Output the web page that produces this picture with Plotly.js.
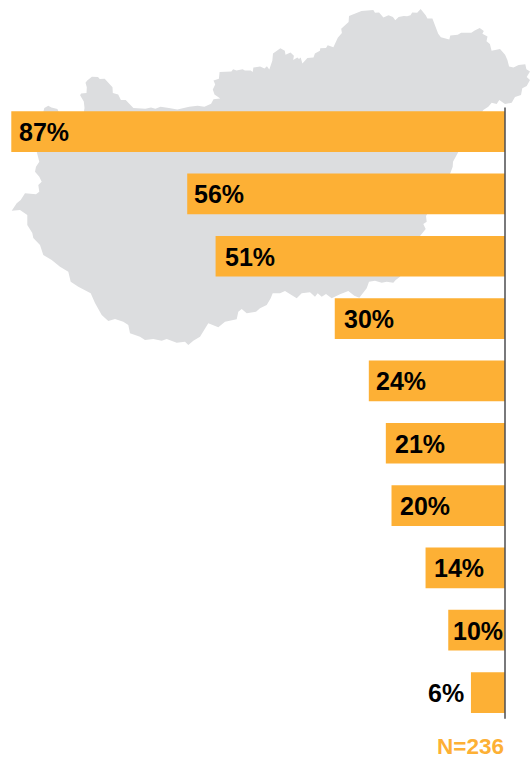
<!DOCTYPE html>
<html>
<head>
<meta charset="utf-8">
<script src="https://cdn.plot.ly/plotly-3.0.1.min.js"></script>
<style>html,body{margin:0;padding:0;background:#fff}#chart{width:530px;height:758px}</style>
</head>
<body>
<div id="chart"></div>
<script>
// Row names are not shown in the picture; only the values are.
const categories = ['Row 1','Row 2','Row 3','Row 4','Row 5','Row 6','Row 7','Row 8','Row 9','Row 10'];
const shares = [87,56,51,30,24,21,20,14,10,6];
const sampleNote = 'N=236';

// Outline of the backdrop map of Hungary.
const mapX = [43.2,44.3,48.3,51.4,57.4,58.8,67.6,83.8,84.5,83.8,80.1,81.1,86.5,86.8,85.5,87.2,91.9,98,99.7,104.7,112.5,112.8,118.2,120.9,125.7,133.4,145.3,151,155.4,160.5,168.9,177.4,189.2,197.6,204.4,211.1,213.5,220.3,214.5,212.8,215.2,213.5,218.9,219.6,231.4,233.1,236.5,242.6,244.9,250.7,252.7,253.4,260.1,264.5,266.9,269.3,272.3,273,280.4,284.8,285.5,290.5,293.9,293.2,297.3,299,300.7,302.4,307.4,313.5,314.9,319.9,320.3,326,327.7,333.4,337.8,341.9,341.2,348.6,349,351.4,354.1,361.5,373.3,375,379.1,383.4,388.5,392.9,395.3,398.6,403.7,407.1,410.5,412.2,417.2,420.6,425.7,427.4,432.4,434.8,438.2,440.9,449.3,450.3,457.8,461.1,464.5,471.3,474.7,479.7,483.8,482.4,487.5,486.5,489.9,491.6,500,505.1,507.4,509.1,513.5,518.6,525.3,526.4,530,526.7,530,526.7,522.3,521,515,511.7,505,499.3,496.7,491.7,488.3,483.3,458.3,453,452.7,450,426,426.7,423.3,425.7,420,400,395.7,393.3,386.7,381.7,375,369,366.7,363.3,359.3,354.3,348.3,340,331.7,326,321.7,317.7,315,310,301.7,296.7,288.3,285,280,272.7,270.7,266.7,260,256,246.7,241.7,238.3,236.7,225,218.3,208.3,205,200,193.3,188.3,185,176.7,166.7,161.7,153.3,145,140,130,128.3,123.3,115,108.3,101.7,95,90.7,78.3,70.7,68.3,60,51.7,43.3,40,33.3,32.3,27.3,27.3,20,11.7,16.7,20.7,25,36,39.3,38.3,41.7,39.3,35,36,39.3,36.7];
const mapY = [112.5,108.1,105.7,107.4,109.1,112.2,112.5,112.5,108.1,101.4,95.3,93.6,92.9,87.2,82.8,80.4,76.7,77,79.1,78.7,87.2,92.9,94.6,100,100,108.1,108.8,107.4,108.8,106.8,108.1,109.5,106.8,105.7,106.8,103.7,99.3,98.6,94.6,89.5,84.5,80.4,78.7,72,71.6,69.3,70.6,69.3,70.6,70.6,72,67.6,66.6,68.6,66.2,69.6,60.8,53.4,48.3,50.7,54.7,52.4,55.7,60.1,57.4,59.1,57.4,63.5,58.1,57.4,53.4,50.7,48.3,48,45.3,47.3,37.8,33.1,28.7,22,15.9,14.9,14.2,11.1,10.1,12.8,12.5,17.6,15.2,16.9,20.3,16.9,15.9,16.2,15.2,12.5,12.8,9.1,15.2,18.6,18.6,25.3,33.8,37.2,39.5,35.5,34.8,32.8,32.8,32.8,30.4,28,31.1,33.8,36.5,41.2,43.9,50.7,49,54.7,60.1,66.6,67.6,64.9,64.2,69.3,71.6,77,80,86,88.3,95,97,102.7,104,100,104,102.7,106.7,110,152,161.7,166.7,174,216,221.7,224,229,236,276.7,280,282.7,281.7,282.7,280.7,281.7,288.3,293,297.7,295.7,291,294.3,298.3,294,296.7,293.3,296.7,292.3,293.3,298.3,292.7,291,293.3,293.3,298.3,305,308.3,311.7,313.3,309,311.7,319.3,321.7,327.3,323.3,328.3,336.7,340.7,345,341.7,342.7,339,340.7,339,340,336.7,333.3,325,321.7,319,321,315,303,293.3,286.7,281.7,271.7,266.7,260,255,245,238,233,225,215,210,210.7,203.3,200,193.3,194.3,191.7,185,181.7,176.7,171.7,166.7,161.7,151.7];

// Label tweaks (pixels from the bar's left end), separate from the data.
const labelGap = [8,7,9,9,7.5,9,8.5,8.5,5,-7];

const ORANGE = '#FDB035';
const FONT = '"Liberation Sans", Arial, sans-serif';

const traces = [
  {
    type: 'scatter', mode: 'lines', x: mapX, y: mapY, xaxis: 'x', yaxis: 'y',
    fill: 'toself', fillcolor: '#DCDDDF', line: {width: 0, color: '#DCDDDF'},
    hoverinfo: 'skip', showlegend: false
  },
  {
    type: 'bar', orientation: 'h', y: categories, x: shares, xaxis: 'x2', yaxis: 'y2',
    marker: {color: ORANGE, line: {width: 0}}, hoverinfo: 'x+y', showlegend: false
  }
];

const annotations = shares.map((v, i) => ({
  xref: 'x2', yref: 'y2', x: v, y: categories[i],
  text: v + '%', showarrow: false,
  xanchor: labelGap[i] < 0 ? 'right' : 'left', yanchor: 'middle',
  xshift: labelGap[i], yshift: -0.5, borderpad: 0, borderwidth: 0,
  font: {family: FONT, size: 25, color: '#000', weight: 700}
}));
annotations.push({
  xref: 'paper', yref: 'paper', x: 504.5 / 530, y: 1 - 746 / 758,
  text: sampleNote, showarrow: false, xanchor: 'right', yanchor: 'middle',
  borderpad: 0, font: {family: FONT, size: 22.5, color: ORANGE, weight: 700}
});

const hidden = {visible: false, showgrid: false, zeroline: false, fixedrange: true};
const layout = {
  width: 530, height: 758,
  margin: {l: 0, r: 0, t: 0, b: 0},
  paper_bgcolor: '#fff', plot_bgcolor: 'rgba(0,0,0,0)',
  showlegend: false, bargap: 0.347,
  font: {family: FONT},
  xaxis: {...hidden, range: [0, 530], domain: [0, 1]},
  yaxis: {...hidden, range: [758, 0], domain: [0, 1]},
  xaxis2: {...hidden, overlaying: 'x', range: [88.99, -4.405]},
  yaxis2: {...hidden, overlaying: 'y', type: 'category', categoryorder: 'array',
           categoryarray: categories, range: [10.05, -2.111]},
  shapes: [{
    type: 'line', xref: 'x', yref: 'y', x0: 505, x1: 505, y0: 107.5, y1: 718.7,
    line: {color: '#4D4D4F', width: 1.5}, layer: 'above'
  }],
  annotations
};

Plotly.newPlot('chart', traces, layout, {displayModeBar: false, staticPlot: true});
</script>
</body>
</html>
